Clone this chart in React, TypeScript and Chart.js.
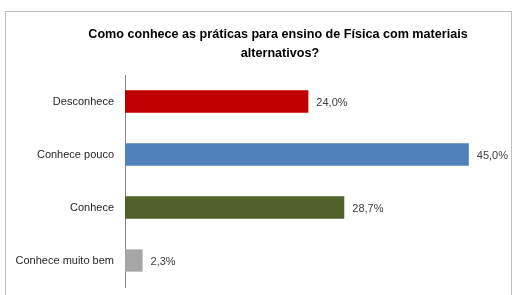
import React, { useEffect, useRef } from "react";
import { Chart, registerables } from "chart.js";

Chart.register(...registerables);

const categories = ["Desconhece", "Conhece pouco", "Conhece", "Conhece muito bem"];
const values = [24.0, 45.0, 28.7, 2.3];
const valueLabels = ["24,0%", "45,0%", "28,7%", "2,3%"];
const barColors = ["#C00000", "#4F81BD", "#4F6228", "#A6A6A6"];
const titleLines = ["Como conhece as práticas para ensino de Física com materiais", "alternativos?"];

const FONT = "'Liberation Sans', Arial, sans-serif";

const decorPlugin = {
  id: "decor",
  beforeDraw(chart: any) {
    const ctx = chart.ctx;
    ctx.save();
    ctx.fillStyle = "#ffffff";
    ctx.fillRect(0, 0, chart.width, chart.height);
    ctx.strokeStyle = "#BFBFBF";
    ctx.lineWidth = 1;
    ctx.strokeRect(5.5, 11.5, 506, 300);
    ctx.fillStyle = "#000000";
    ctx.font = `bold 12.6px ${FONT}`;
    ctx.textAlign = "center";
    ctx.textBaseline = "middle";
    ctx.fillText(titleLines[0], 278, 35);
    ctx.fillText(titleLines[1], 280, 54);
    ctx.restore();
  },
  afterDatasetsDraw(chart: any) {
    const ctx = chart.ctx;
    const meta = chart.getDatasetMeta(0);
    ctx.save();
    ctx.fillStyle = "#404040";
    ctx.font = `11px ${FONT}`;
    ctx.textAlign = "left";
    ctx.textBaseline = "middle";
    meta.data.forEach((bar: any, i: number) => {
      ctx.fillText(valueLabels[i], bar.x + 8, bar.y + 1);
    });
    ctx.restore();
  },
};

export default function App() {
  const ref = useRef<HTMLCanvasElement | null>(null);
  useEffect(() => {
    if (!ref.current) return;
    const chart = new Chart(ref.current, {
      type: "bar",
      data: {
        labels: categories,
        datasets: [
          {
            data: values,
            backgroundColor: barColors,
            borderWidth: 0,
            barPercentage: 0.42,
            categoryPercentage: 1,
          },
        ],
      },
      options: {
        indexAxis: "y",
        animation: false,
        responsive: false,
        maintainAspectRatio: false,
        layout: { padding: { top: 75, bottom: 8, left: 0, right: 6 } },
        plugins: {
          legend: { display: false },
          title: { display: false },
          tooltip: { enabled: false },
        },
        scales: {
          x: {
            display: false,
            min: 0,
            max: 50,
          },
          y: {
            afterFit: (s: any) => {
              s.width = 125;
              s.paddingTop = 0;
              s.paddingBottom = 0;
            },
            grid: { display: false, drawTicks: false },
            border: { display: true, color: "#868686", width: 1 },
            ticks: {
              padding: 11,
              color: "#262626",
              font: { family: FONT, size: 11 },
            },
          },
        },
      },
      plugins: [decorPlugin],
    });
    return () => chart.destroy();
  }, []);
  return (
    <div style={{ position: "fixed", left: 0, top: 0, width: 513, height: 295, background: "#fff" }}>
      <canvas ref={ref} width={513} height={295} style={{ width: 513, height: 295 }} />
    </div>
  );
}
